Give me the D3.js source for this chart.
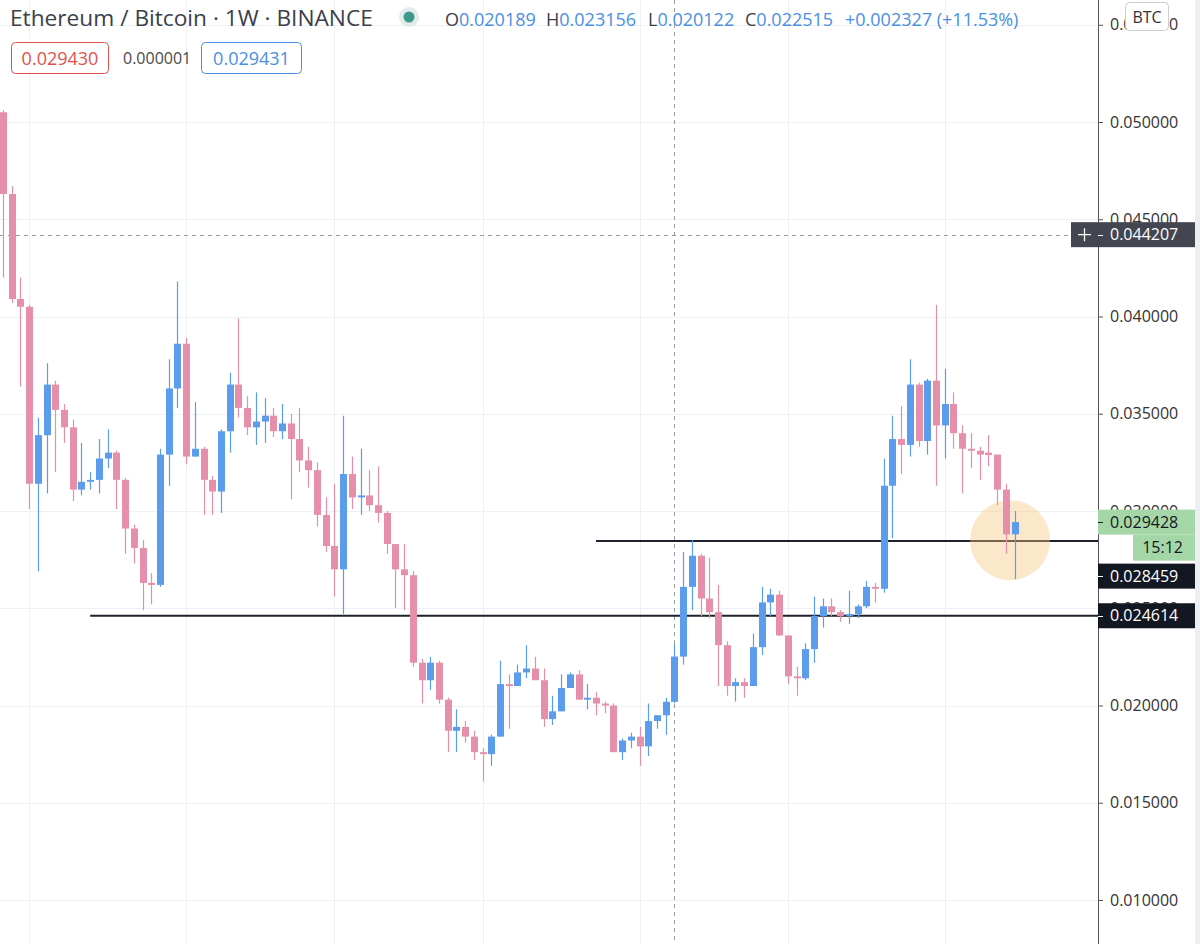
<!DOCTYPE html>
<html>
<head>
<meta charset="utf-8">
<script src="https://cdn.jsdelivr.net/npm/d3@7"></script>
<style>
  body { margin: 0; background: #fff; }
  svg { display: block; font-family: "Open Sans", "DejaVu Sans", sans-serif; }
</style>
</head>
<body>
<div class="chart"></div>
<script>
// === === DATA === ===

// weekly ETH/BTC candles, oldest first
const openP = [
  0.0505, 0.0463, 0.0409, 0.0405, 0.0314, 0.0339, 0.0365, 0.0352, 0.0343, 0.0311,
  0.0315, 0.0316, 0.0327, 0.0330, 0.0316, 0.0291, 0.0281, 0.0263, 0.0262, 0.0329,
  0.0363, 0.0386, 0.0328, 0.0332, 0.0316, 0.0310, 0.0341, 0.0365, 0.0353, 0.0343,
  0.0346, 0.0349, 0.0341, 0.0345, 0.0337, 0.0326, 0.0321, 0.0298, 0.0282, 0.0270,
  0.0319, 0.0307, 0.0308, 0.0303, 0.0299, 0.0283, 0.0270, 0.0267, 0.0222, 0.0213,
  0.0222, 0.0203, 0.0187, 0.0189, 0.0184, 0.0176, 0.0175, 0.0184, 0.0211, 0.0210,
  0.0217, 0.0219, 0.0213, 0.0193, 0.0197, 0.0209, 0.0216, 0.0203, 0.0204, 0.0201,
  0.0200, 0.0176, 0.0182, 0.0184, 0.0179, 0.0192, 0.0195, 0.020189, 0.022515, 0.0261,
  0.0277, 0.0255, 0.0248, 0.0231, 0.0210, 0.0212, 0.0210, 0.0230, 0.0253, 0.0257,
  0.0236, 0.0215, 0.0214, 0.0229, 0.0246, 0.0251, 0.0248, 0.0246, 0.0247, 0.0251,
  0.0261, 0.0260, 0.0313, 0.0337, 0.0334, 0.0365, 0.0336, 0.0367, 0.0344, 0.0355,
  0.0340, 0.0332, 0.0331, 0.0330, 0.0329, 0.0311, 0.0288
];
const highP = [
  0.0506, 0.0467, 0.0420, 0.0406, 0.0348, 0.0376, 0.0367, 0.0355, 0.0347, 0.0335,
  0.0320, 0.0337, 0.0342, 0.0331, 0.0317, 0.0293, 0.0285, 0.0268, 0.0332, 0.0378,
  0.0418, 0.0389, 0.0356, 0.0333, 0.0318, 0.0342, 0.0371, 0.0399, 0.0359, 0.0361,
  0.0358, 0.0353, 0.0355, 0.0350, 0.0353, 0.0333, 0.0325, 0.0307, 0.0314, 0.0349,
  0.0328, 0.0332, 0.0321, 0.0323, 0.0300, 0.0283, 0.0283, 0.0269, 0.0224, 0.0225,
  0.0223, 0.0204, 0.0198, 0.0192, 0.0187, 0.0178, 0.0185, 0.0223, 0.0216, 0.0221,
  0.0231, 0.0225, 0.0219, 0.0205, 0.0216, 0.0217, 0.0218, 0.0211, 0.0207, 0.0202,
  0.0201, 0.0183, 0.0186, 0.0189, 0.0201, 0.0195, 0.0204, 0.023156, 0.0279, 0.0285,
  0.0278, 0.0276, 0.0262, 0.0233, 0.0214, 0.0214, 0.0237, 0.0261, 0.0260, 0.0259,
  0.0236, 0.0220, 0.0232, 0.0256, 0.0255, 0.0255, 0.0249, 0.0259, 0.0252, 0.0264,
  0.0263, 0.0327, 0.0349, 0.0354, 0.0378, 0.0366, 0.0368, 0.0406, 0.0373, 0.0361,
  0.0344, 0.0340, 0.0333, 0.0339, 0.0329, 0.0314, 0.0300
];
const lowP = [
  0.0420, 0.0407, 0.0364, 0.0301, 0.0269, 0.0309, 0.0320, 0.0335, 0.0305, 0.0308,
  0.0311, 0.0309, 0.0322, 0.0301, 0.0278, 0.0273, 0.0249, 0.0252, 0.0261, 0.0313,
  0.0353, 0.0324, 0.0328, 0.0298, 0.0298, 0.0299, 0.0330, 0.0348, 0.0339, 0.0334,
  0.0335, 0.0338, 0.0337, 0.0306, 0.0320, 0.0312, 0.0292, 0.0279, 0.0256, 0.0247,
  0.0301, 0.0298, 0.0300, 0.0294, 0.0278, 0.0250, 0.0249, 0.0220, 0.0201, 0.0208,
  0.0201, 0.0176, 0.0176, 0.0181, 0.0172, 0.0161, 0.0169, 0.0184, 0.0188, 0.0210,
  0.0214, 0.0213, 0.0189, 0.0190, 0.0197, 0.0209, 0.0203, 0.0198, 0.0195, 0.0196,
  0.0176, 0.0172, 0.0178, 0.0169, 0.0174, 0.0188, 0.0185, 0.020122, 0.0221, 0.0249,
  0.0246, 0.0245, 0.0210, 0.0205, 0.0202, 0.0204, 0.0210, 0.0226, 0.0246, 0.0236,
  0.0211, 0.0205, 0.0213, 0.0222, 0.0240, 0.0246, 0.0243, 0.0242, 0.0245, 0.0250,
  0.0253, 0.0258, 0.0286, 0.0319, 0.0328, 0.0333, 0.0329, 0.0313, 0.0327, 0.0332,
  0.0309, 0.0322, 0.0316, 0.0323, 0.0303, 0.0278, 0.0265
];
const closeP = [
  0.0463, 0.0409, 0.0405, 0.0314, 0.0339, 0.0365, 0.0352, 0.0343, 0.0311, 0.0315,
  0.0316, 0.0327, 0.0330, 0.0316, 0.0291, 0.0281, 0.0263, 0.0262, 0.0329, 0.0363,
  0.0386, 0.0328, 0.0332, 0.0316, 0.0310, 0.0341, 0.0365, 0.0353, 0.0343, 0.0346,
  0.0349, 0.0341, 0.0345, 0.0337, 0.0326, 0.0321, 0.0298, 0.0282, 0.0270, 0.0319,
  0.0307, 0.0308, 0.0303, 0.0299, 0.0283, 0.0270, 0.0267, 0.0222, 0.0213, 0.0222,
  0.0203, 0.0187, 0.0189, 0.0184, 0.0176, 0.0175, 0.0184, 0.0211, 0.0210, 0.0217,
  0.0219, 0.0213, 0.0193, 0.0197, 0.0209, 0.0216, 0.0203, 0.0204, 0.0201, 0.0200,
  0.0176, 0.0182, 0.0184, 0.0179, 0.0192, 0.0195, 0.020188, 0.022515, 0.0261, 0.0277,
  0.0255, 0.0248, 0.0231, 0.0210, 0.0212, 0.0210, 0.0230, 0.0253, 0.0257, 0.0236,
  0.0215, 0.0214, 0.0229, 0.0246, 0.0251, 0.0248, 0.0246, 0.0247, 0.0251, 0.0261,
  0.0260, 0.0313, 0.0337, 0.0334, 0.0365, 0.0336, 0.0367, 0.0344, 0.0355, 0.0340,
  0.0332, 0.0331, 0.0329, 0.03288, 0.0311, 0.0288, 0.029428
];

// price scale ticks
const priceTicks = [0.055, 0.05, 0.045, 0.04, 0.035, 0.03, 0.025, 0.02, 0.015, 0.01];
// candles that carry a vertical time grid line
const gridCandles = [3, 21, 38, 55, 73, 90, 108];

// drawn horizontal levels and the candle where each one starts
const levelPrices = [0.024614, 0.028459];
const levelStart = [10, 68];

// crosshair (candle under cursor + price under cursor)
const crossIndex = 77;
const crossPrice = 0.044207;

// quote box + countdown
const bidPrice = 0.029430;
const askPrice = 0.029431;
const countdown = "15:12";

// highlighted zone (candle position, price)
const highlight = {index: 115.5, price: 0.0285};

// === === SETUP === ===
const width = 1200, height = 944;
const axisX = 1098;                // left edge of the price scale
const upColor = "#5b9cec", downColor = "#e68fab";
const fmt = d3.format(".6f");

const svg = d3.select(".chart").append("svg")
    .attr("width", width)
    .attr("height", height);

const candles = closeP.map((c, i) => ({i, o: openP[i], h: highP[i], l: lowP[i], c}));

// === Scales ===
const xScale = d3.scaleLinear()
    .domain([0, candles.length - 1])
    .range([3, 1014.5]);

const yScale = d3.scaleLinear()
    .domain([0.01, 0.05])
    .range([900, 122]);

const step = xScale(1) - xScale(0);
const bodyW = Math.round(step * 0.76);

// === Grid ===
const grid = svg.append("g").attr("class", "grid");

grid.selectAll(".hgrid")
    .data(priceTicks)
    .join("line")
    .attr("class", "hgrid")
    .attr("x1", 0).attr("x2", axisX)
    .attr("y1", d => Math.round(yScale(d)) + 0.5)
    .attr("y2", d => Math.round(yScale(d)) + 0.5)
    .attr("stroke", "#eef0f5");

grid.selectAll(".vgrid")
    .data(gridCandles)
    .join("line")
    .attr("class", "vgrid")
    .attr("x1", d => Math.round(xScale(d)) + 0.5)
    .attr("x2", d => Math.round(xScale(d)) + 0.5)
    .attr("y1", 0).attr("y2", height)
    .attr("stroke", "#eef0f5");

// === Crosshair ===
svg.append("line")
    .attr("x1", Math.round(xScale(crossIndex)) + 0.5)
    .attr("x2", Math.round(xScale(crossIndex)) + 0.5)
    .attr("y1", 0).attr("y2", height)
    .attr("stroke", "#9598a1")
    .attr("stroke-dasharray", "4,4");

svg.append("line")
    .attr("x1", 0).attr("x2", axisX - 27)
    .attr("y1", Math.round(yScale(crossPrice)) + 0.5)
    .attr("y2", Math.round(yScale(crossPrice)) + 0.5)
    .attr("stroke", "#9598a1")
    .attr("stroke-dasharray", "4,4");

// === Levels ===
svg.selectAll(".level")
    .data(levelPrices)
    .join("line")
    .attr("class", "level")
    .attr("x1", (d, k) => xScale(levelStart[k]))
    .attr("x2", axisX)
    .attr("y1", d => yScale(d))
    .attr("y2", d => yScale(d))
    .attr("stroke", "#1e222d")
    .attr("stroke-width", 2);

// === Highlight circle (over the lines, under the candles) ===
svg.append("circle")
    .attr("cx", xScale(highlight.index))
    .attr("cy", yScale(highlight.price))
    .attr("r", 40)
    .attr("fill", "#f6c47a")
    .attr("opacity", 0.4);

// === Candles ===
const candleG = svg.append("g").attr("class", "candles");

candleG.selectAll(".wick")
    .data(candles)
    .join("line")
    .attr("class", "wick")
    .attr("x1", d => Math.round(xScale(d.i)) + 0.5)
    .attr("x2", d => Math.round(xScale(d.i)) + 0.5)
    .attr("y1", d => yScale(d.h))
    .attr("y2", d => yScale(d.l))
    .attr("stroke", d => d.c >= d.o ? upColor : downColor)
    .attr("stroke-width", 1.2);

candleG.selectAll(".body")
    .data(candles)
    .join("rect")
    .attr("class", "body")
    .attr("x", d => Math.round(xScale(d.i)) + 0.5 - bodyW / 2)
    .attr("y", d => yScale(Math.max(d.o, d.c)))
    .attr("width", bodyW)
    .attr("height", d => Math.max(1.5, Math.abs(yScale(d.o) - yScale(d.c))))
    .attr("fill", d => d.c >= d.o ? upColor : downColor);

// === Price scale ===
svg.append("rect")
    .attr("x", axisX).attr("y", 0)
    .attr("width", width - axisX).attr("height", height)
    .attr("fill", "#fff");

const yAxis = d3.axisRight(yScale)
    .tickValues(priceTicks)
    .tickFormat(fmt)
    .tickSize(5)
    .tickPadding(7);

const yAxisSVG = svg.append("g")
    .attr("class", "axis y-axis")
    .attr("transform", `translate(${axisX},0)`)
    .call(yAxis);

yAxisSVG.select(".domain").remove();
yAxisSVG.selectAll(".tick line").attr("stroke", "#555");
yAxisSVG.selectAll(".tick text")
    .attr("font-size", 16)
    .attr("font-family", "Open Sans")
    .attr("fill", "#333");

svg.append("line")
    .attr("x1", axisX + 0.5).attr("x2", axisX + 0.5)
    .attr("y1", 0).attr("y2", height)
    .attr("stroke", "#50535e");

svg.append("rect")
    .attr("x", 1195).attr("y", 0)
    .attr("width", 5).attr("height", height)
    .attr("fill", "#eceef2");

// === Price labels ===
const labelH = 25, labelW = 97;
const lastY = yScale(closeP[closeP.length - 1]);
const timerBottom = lastY + labelH / 2 + labelH + 1;

const priceLabels = [
    {v: crossPrice, y: yScale(crossPrice), fill: "#434651", color: "#fff"},
    {v: closeP[closeP.length - 1], y: lastY, fill: "#a5d6a7", color: "#131722"},
    {v: levelPrices[1], y: Math.max(yScale(levelPrices[1]), timerBottom + 3 + labelH / 2), fill: "#131722", color: "#fff"},
    {v: levelPrices[0], y: yScale(levelPrices[0]), fill: "#131722", color: "#fff"}
];

const labelG = svg.append("g").attr("class", "price-labels");

labelG.selectAll("rect")
    .data(priceLabels)
    .join("rect")
    .attr("x", axisX)
    .attr("y", d => d.y - labelH / 2)
    .attr("width", labelW).attr("height", labelH)
    .attr("fill", d => d.fill);

labelG.selectAll("line")
    .data(priceLabels)
    .join("line")
    .attr("x1", axisX).attr("x2", axisX + 5)
    .attr("y1", d => Math.round(d.y) + 0.5).attr("y2", d => Math.round(d.y) + 0.5)
    .attr("stroke", d => d.color);

labelG.selectAll("text")
    .data(priceLabels)
    .join("text")
    .attr("x", axisX + 12)
    .attr("y", d => d.y)
    .attr("dy", "0.35em")
    .attr("font-size", 16)
    .attr("fill", d => d.color)
    .text(d => fmt(d.v));

// countdown under the last price
labelG.append("rect")
    .attr("x", 1133).attr("y", lastY + labelH / 2)
    .attr("width", 1195 - 1133).attr("height", labelH + 1)
    .attr("fill", "#a5d6a7");
labelG.append("text")
    .attr("x", 1183).attr("y", lastY + labelH)
    .attr("dy", "0.35em")
    .attr("text-anchor", "end")
    .attr("font-size", 16)
    .attr("fill", "#131722")
    .text(countdown);

// crosshair "+" button
const plusY = yScale(crossPrice);
labelG.append("rect")
    .attr("x", axisX - 27).attr("y", plusY - labelH / 2)
    .attr("width", 27).attr("height", labelH)
    .attr("fill", "#434651");
labelG.append("path")
    .attr("d", `M${axisX - 20},${plusY} h13 M${axisX - 13.5},${plusY - 6.5} v13`)
    .attr("stroke", "#fff").attr("stroke-width", 1.3);

// currency box
svg.append("rect")
    .attr("x", 1125.5).attr("y", 2.5)
    .attr("width", 43).attr("height", 28).attr("rx", 4)
    .attr("fill", "#fff").attr("stroke", "#c9ccd3");
svg.append("text")
    .attr("x", 1147).attr("y", 23)
    .attr("text-anchor", "middle")
    .attr("font-size", 16).attr("fill", "#333")
    .text("BTC");

// === Legend ===
const legend = svg.append("g").attr("class", "legend");

legend.append("text")
    .attr("x", 10).attr("y", 26)
    .attr("font-size", 22.7).attr("fill", "#3b3f4a")
    .text("Ethereum / Bitcoin · 1W · BINANCE");

legend.append("circle").attr("cx", 409).attr("cy", 17).attr("r", 10).attr("fill", "#e3ecea");
legend.append("circle").attr("cx", 409).attr("cy", 17).attr("r", 5.5).attr("fill", "#3a9a8b");

const cr = candles[crossIndex];
const prevClose = closeP[crossIndex - 1];
const change = cr.c - prevClose;
const ohlc = [["O", cr.o, 445], ["H", cr.h, 546], ["L", cr.l, 648], ["C", cr.c, 745]];
const valueColor = cr.c >= cr.o ? "#4a90e2" : "#e0514f";

ohlc.forEach(([k, v, x]) => {
    const t = legend.append("text").attr("x", x).attr("y", 26).attr("font-size", 18);
    t.append("tspan").attr("fill", "#3b3f4a").text(k);
    t.append("tspan").attr("fill", valueColor).text(fmt(v));
});

legend.append("text")
    .attr("x", 845).attr("y", 26)
    .attr("font-size", 18).attr("fill", valueColor)
    .text(`${change >= 0 ? "+" : ""}${fmt(change)} (${change >= 0 ? "+" : ""}${d3.format(".2f")(change / prevClose * 100)}%)`);

// bid / spread / ask
legend.append("rect")
    .attr("x", 11.5).attr("y", 42.5).attr("width", 97).attr("height", 31).attr("rx", 4)
    .attr("fill", "#fff").attr("stroke", "#e0514f");
legend.append("text")
    .attr("x", 60).attr("y", 65).attr("text-anchor", "middle")
    .attr("font-size", 18).attr("fill", "#e0514f")
    .text(fmt(bidPrice));

legend.append("text")
    .attr("x", 123).attr("y", 64)
    .attr("font-size", 16).attr("fill", "#4a4a4a")
    .text(fmt(askPrice - bidPrice));

legend.append("rect")
    .attr("x", 201.5).attr("y", 42.5).attr("width", 100).attr("height", 31).attr("rx", 4)
    .attr("fill", "#fff").attr("stroke", "#4a90e2");
legend.append("text")
    .attr("x", 251.5).attr("y", 65).attr("text-anchor", "middle")
    .attr("font-size", 18).attr("fill", "#4a90e2")
    .text(fmt(askPrice));
</script>
</body>
</html>
